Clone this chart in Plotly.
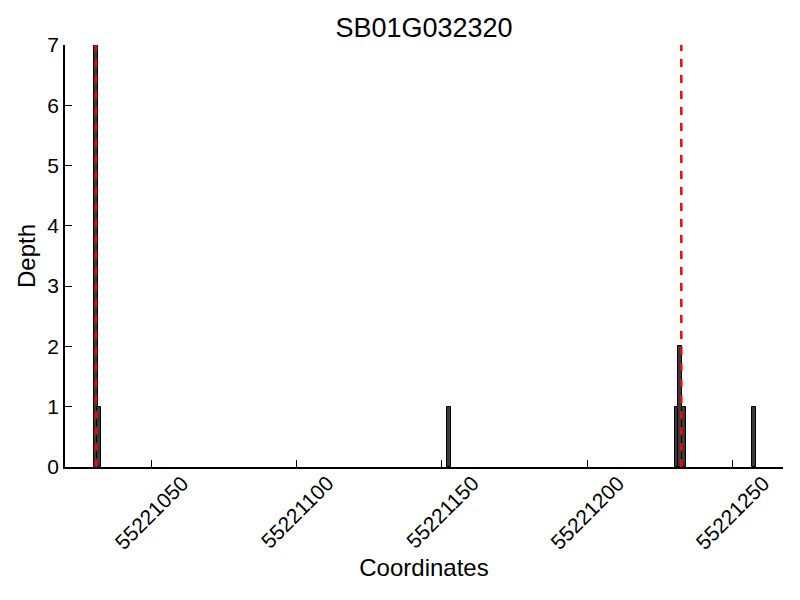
import plotly.graph_objects as go

# Data
positions = [55221031.0, 55221032.1, 55221152.6, 55221230.8, 55221232.1, 55221233.4, 55221257.3]
depths = [7, 1, 1, 1, 2, 1, 1]
bar_width = 1.35
marker_lines = [55221031.0, 55221232.4]
x_ticks = [55221050, 55221100, 55221150, 55221200, 55221250]
x_tick_text = ["55221050", "55221100", "55221150", "55221200", "55221250"]
y_ticks = [0, 1, 2, 3, 4, 5, 6, 7]
title_text = "SB01G032320"

FONT = "Liberation Sans, Arial, Helvetica, sans-serif"
OFF = 8  # page body offset

fig = go.Figure()
fig.add_trace(go.Bar(
    x=positions, y=depths, width=bar_width,
    marker=dict(color="#3a3a3a", line=dict(color="black", width=1)),
    showlegend=False,
))
for xv in marker_lines:
    fig.add_trace(go.Scatter(
        x=[xv, xv], y=[0, 7], mode="lines",
        line=dict(color="red", width=2.5, dash="8px,8px"),
        showlegend=False, hoverinfo="skip",
    ))

fig.update_layout(
    width=800, height=600,
    margin=dict(l=65 - OFF, r=800 - (783 - OFF), t=45 - OFF, b=600 - (467 - OFF), autoexpand=False),
    plot_bgcolor="white", paper_bgcolor="white",
    font=dict(family=FONT, color="black", size=21),
    title=dict(text=title_text, x=(424 - OFF) / 800, xanchor="center",
               y=1 - (28 - OFF) / 600, yanchor="middle", yref="container",
               font=dict(size=27, family=FONT, color="black")),
    bargap=0,
)
fig.update_xaxes(
    range=[55221020.3, 55221267.4],
    tickvals=x_ticks, ticktext=x_tick_text,
    tickangle=-45, ticks="inside", ticklen=7, tickcolor="black", tickwidth=1,
    ticklabelshift=31, ticklabelstandoff=-6,
    showline=True, linecolor="black", linewidth=1.5, mirror=False,
    showgrid=False, zeroline=False, automargin=False,
    tickfont=dict(size=21, family=FONT),
    title=dict(text="Coordinates", font=dict(size=24, family=FONT), standoff=6),
)
fig.update_yaxes(
    range=[0, 7], tickvals=y_ticks,
    ticks="inside", ticklen=7, tickcolor="black", tickwidth=1,
    showline=True, linecolor="black", linewidth=1.5, mirror=False,
    showgrid=False, zeroline=False, automargin=False,
    tickfont=dict(size=21, family=FONT),
    title=dict(text="Depth", font=dict(size=24, family=FONT), standoff=5),
)

fig.write_html("out.html")
